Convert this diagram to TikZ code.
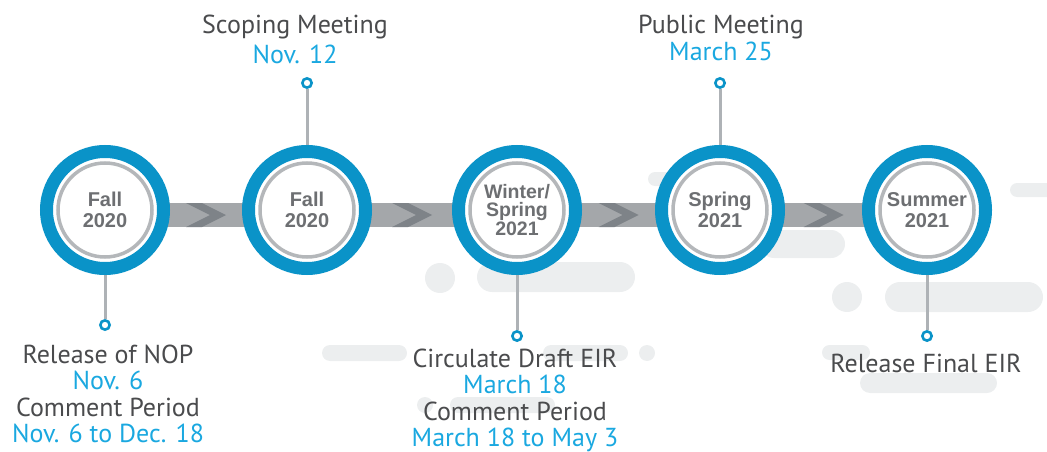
\documentclass[tikz,border=0pt]{standalone}
\usepackage{fontspec}
\usetikzlibrary{calc, backgrounds}
\newfontfamily\labelfont{PT Sans}
\newfontfamily\stagefont{Liberation Sans}
\definecolor{ringblue}{HTML}{0A93C8}
\definecolor{textblue}{HTML}{1AA8E0}
\definecolor{textdark}{HTML}{4A4B4D}
\definecolor{stagegrey}{HTML}{6D6F72}
\definecolor{ringgrey}{HTML}{B4B7BA}
\definecolor{stemgrey}{HTML}{AEB2B6}
\definecolor{bandgrey}{HTML}{A4A7AA}
\definecolor{chevgrey}{HTML}{7E8388}
\definecolor{pillgrey}{HTML}{ECEEEF}

\begin{document}
\begin{tikzpicture}[
    x=1pt, y=-1pt,
    stage/.style={circle, draw=ringblue, line width=13pt, fill=white, minimum size=117pt, inner sep=0pt, align=center, text=stagegrey, font=\stagefont\bfseries\fontsize{20}{21}\selectfont},
    stopdot/.style={circle, draw=ringblue, line width=2.6pt, fill=white, minimum size=9.3pt, inner sep=0pt},
    stemline/.style={draw=stemgrey, line width=3pt},
    innerring/.style={draw=ringgrey, line width=3.5pt},
    chevron/.style={fill=chevgrey},
    pill/.style={fill=pillgrey},
    eventtext/.style={align=center, inner sep=0pt, anchor=north, text=textdark, font=\labelfont\fontsize{26}{26.5}\selectfont}
]
\useasboundingbox (0,0) rectangle (1047,452);

% Season circles
\node[stage] (c1) at (105,210) {Fall\\2020};
\node[stage] (c2) at (307,210) {Fall\\2020};
\node[stage, font=\stagefont\bfseries\fontsize{19.5}{17.5}\selectfont] (c3) at (517,210) {Winter/\\Spring\\2021};
\node[stage] (c4) at (720,210) {Spring\\2021};
\node[stage] (c5) at (927,210) {Summer\\2021};
\foreach \c in {c1,c2,c3,c4,c5}
    \draw[innerring] (\c) circle (47);

% Stem end points
\node[stopdot] (d1) at (105,325) {};
\node[stopdot] (d2) at (307,83) {};
\node[stopdot] (d3) at (517,336) {};
\node[stopdot] (d4) at (720,83) {};
\node[stopdot] (d5) at (927,336) {};

\begin{scope}[on background layer]
% Light decoration
\foreach \xa/\ya/\xb/\yb/\r in {322/345/407/361/8, 543/345/628/361/8, 450/397/555/413/8,
    477/262/635/292/15, 760/230/845/258/14, 648/172/700/186/7, 1010/183/1062/197/7,
    885/282/1043/312/15, 822/345/870/360/7.5, 860/373/997/393/10}
    \fill[pill, rounded corners=\r] (\xa,\ya) rectangle (\xb,\yb);
\foreach \cx/\cy/\r in {647/353/8, 425/405/8, 440/278/15, 847/297/15}
    \fill[pill] (\cx,\cy) circle (\r);

% Band with chevrons
\fill[bandgrey] ($(c1)+(0,-7)$) rectangle ($(c5)+(0,17)$);
\foreach \a/\b in {c1/c2, c2/c3, c3/c4, c4/c5}
    \fill[chevron] ($(\a)!0.5!(\b)+(0,5)$) ++(-20,-12) -- ++(16,0) -- ++(24,12)
        -- ++(-24,12) -- ++(-16,0) -- ++(24,-12) -- cycle;

% Stems
\foreach \i in {1,...,5}
    \draw[stemline] (c\i) -- (d\i);
\end{scope}

% Event labels
\node[eventtext] (t1) at (108,344.5) {Release of NOP\\\textcolor{textblue}{Nov. 6}\\Comment Period\\\textcolor{textblue}{Nov. 6 to Dec. 18}};
\node[eventtext] (t2) at (295,14.5) {Scoping Meeting\\[3.5pt]\textcolor{textblue}{Nov. 12}};
\node[eventtext] (t3) at (515,348.5) {Circulate Draft EIR\\\textcolor{textblue}{March 18}\\Comment Period\\\textcolor{textblue}{March 18 to May 3}};
\node[eventtext] (t4) at (721,14.5) {Public Meeting\\[0.5pt]\textcolor{textblue}{March 25}};
\node[eventtext] (t5) at (926,353.5) {Release Final EIR};

\end{tikzpicture}
\end{document}
